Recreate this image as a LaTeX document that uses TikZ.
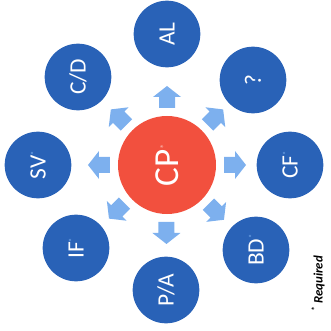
\documentclass[tikz,border=0pt]{standalone}
\usepackage{fontspec}
\setmainfont{Carlito}
\usepackage{tikz}
\usetikzlibrary{calc}
\definecolor{wheelblue}{RGB}{41,98,183}
\definecolor{wheelred}{RGB}{242,80,62}
\definecolor{wheelsky}{RGB}{125,176,238}
\definecolor{wheelpink}{RGB}{250,175,165}
\newcommand{\req}{\textsuperscript{\color{wheelsky}\fontsize{7}{7}\selectfont*}}
\tikzset{
  spoke/.style={circle,fill=wheelblue,minimum size=2cm,inner sep=0pt,text=white,
    font=\fontsize{20}{20}\selectfont,rotate=90},
  hub/.style={circle,fill=wheelred,minimum size=2.94cm,inner sep=0pt,text=white,
    font=\fontsize{30}{30}\selectfont,rotate=90},
  barrow/.pic={\fill[wheelsky] (-11,-8)--(0,-8)--(0,-14)--(11,0)--(0,14)--(0,8)--(-11,8)--cycle;}
}
\begin{document}
\begin{tikzpicture}[x=0.03cm,y=0.03cm,line cap=round,line join=round]
\useasboundingbox (0,0) rectangle (330,331);
% Centre and the eight surrounding fields.
\node[hub] (cp) at (167,166) {CP\textsuperscript{\color{wheelpink}\fontsize{9}{9}\selectfont*}};
\node[spoke] (al) at (167,297) {AL};
\node[spoke] (qm) at (253,251) {?};
\node[spoke] (cf) at (290,166) {CF\req};
\node[spoke] (bd) at (256,81) {BD\req};
\node[spoke] (pa) at (166,41) {P/A};
\node[spoke] (if) at (76,83) {IF\req};
\node[spoke] (sv) at (38,166) {SV\req};
\node[spoke] (cd) at (78,254) {C/D};
% Block arrows from the centre outwards.
\pic[rotate=90] at ($(cp)!2.04cm!(al)$) {barrow};
\pic[rotate=45] at ($(cp)!2.04cm!(qm)$) {barrow};
\pic[rotate=0] at ($(cp)!2.04cm!(cf)$) {barrow};
\pic[rotate=-45] at ($(cp)!2.04cm!(bd)$) {barrow};
\pic[rotate=-90] at ($(cp)!2.04cm!(pa)$) {barrow};
\pic[rotate=-135] at ($(cp)!2.04cm!(if)$) {barrow};
\pic[rotate=180] at ($(cp)!2.04cm!(sv)$) {barrow};
\pic[rotate=135] at ($(cp)!2.04cm!(cd)$) {barrow};
\node[rotate=90,font=\fontsize{11}{11}\selectfont\bfseries\itshape] (note) at (318,47)
 {\textsuperscript{*} Required};
\end{tikzpicture}
\end{document}
